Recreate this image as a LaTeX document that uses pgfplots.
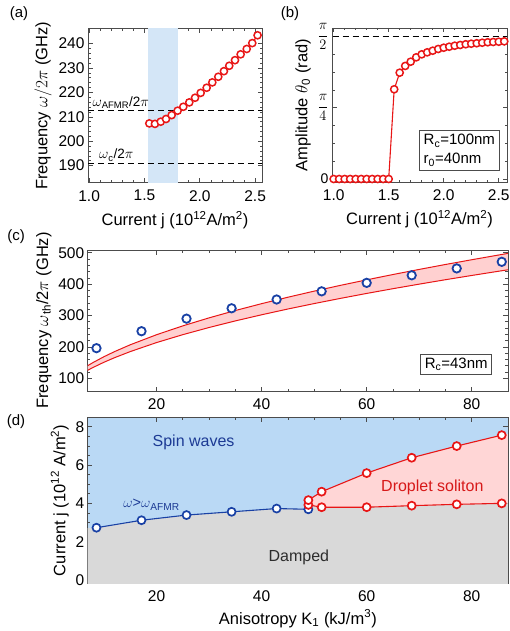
\documentclass[border=0pt]{standalone}
\usepackage{fontspec}
\setmainfont{Liberation Sans}
\setsansfont{Liberation Sans}
\usepackage{pgfplots}
\pgfplotsset{compat=1.18}

\definecolor{myred}{RGB}{232,22,22}
\definecolor{myblue}{RGB}{25,65,165}
\definecolor{bandblue}{RGB}{212,230,247}
\definecolor{regblue}{RGB}{186,217,245}
\definecolor{reggray}{RGB}{217,217,217}
\definecolor{regpink}{RGB}{255,214,214}
\definecolor{bandpink}{RGB}{255,208,208}
\definecolor{txtblue}{RGB}{28,58,148}
\definecolor{txtred}{RGB}{215,25,25}
\definecolor{txtgray}{RGB}{45,45,45}

\pgfplotsset{
  panel/.style={
    scale only axis,
    anchor=south west,
    axis line style={black!70, line width=0.7pt},
    tick align=inside,
    major tick length=4.5pt,
    minor tick length=2.5pt,
    every tick/.style={black!70, line width=0.6pt},
    /pgf/number format/assume math mode=true,
    tick label style={font=\fontsize{15.5}{18}\selectfont},
    xticklabel style={yshift=-4pt},
    label style={font=\fontsize{16.5}{19}\selectfont},
  },
  redmk/.style={myred, line width=1.1pt, mark=*, mark size=3.6pt,
    mark options={fill=white, draw=myred, line width=1.5pt, solid}},
}

\begin{document}
\begin{tikzpicture}
\useasboundingbox (0,0) rectangle (509pt,-631pt);

% ---------------- (a) ----------------
\begin{axis}[panel, at={(88pt,-182.7pt)}, width=174pt, height=154pt,
  xmin=0.99, xmax=2.562, ymin=183.0, ymax=246.1,
  xtick={1,1.5,2,2.5}, xticklabels={1.0,1.5,2.0,2.5},
  ytick={190,200,210,220,230,240},
  minor x tick num=4, minor y tick num=4,
  xlabel style={yshift=-3pt},
  xlabel={Current j (10\textsuperscript{12}A/m\textsuperscript{2})},
  ylabel={Frequency $\omega/2\pi$ (GHz)}]
\addplot[fill=bandblue, draw=none] coordinates {(1.53,170) (1.80,170) (1.80,260) (1.53,260)} -- cycle;
\addplot[black, line width=0.9pt, dash pattern=on 6pt off 4pt] coordinates {(0.9,212.7) (2.7,212.7)};
\addplot[black, line width=0.9pt, dash pattern=on 6pt off 4pt] coordinates {(0.9,191.0) (2.7,191.0)};
\addplot[redmk] coordinates {
(1.544,207.3) (1.595,207.1) (1.647,208.0) (1.695,209.1) (1.746,210.7)
(1.800,212.5) (1.851,214.1) (1.905,215.9) (1.957,217.8) (2.008,219.8)
(2.062,221.9) (2.113,224.1) (2.167,226.4) (2.218,228.7) (2.266,230.9)
(2.318,233.2) (2.369,235.6) (2.424,237.8) (2.474,240.2) (2.522,243.4)};
\node[anchor=south west, inner sep=1pt, font=\fontsize{13.5}{15}\selectfont] at (axis cs:1.02,213.0) {$\omega$\textsubscript{AFMR}/2$\pi$};
\node[anchor=south west, inner sep=1pt, font=\fontsize{13.5}{15}\selectfont] at (axis cs:1.08,191.3) {$\omega$\textsubscript{c}/2$\pi$};
\end{axis}

% ---------------- (b) ----------------
\begin{axis}[panel, at={(332pt,-182pt)}, width=175pt, height=154pt,
  xmin=0.985, xmax=2.575, ymin=-0.033, ymax=1.663,
  xtick={1,1.5,2,2.5}, xticklabels={1.0,1.5,2.0,2.5},
  ytick={0,0.7854,1.5708}, yticklabels={0,$\displaystyle\frac{\pi}{4}$,$\displaystyle\frac{\pi}{2}$},
  yticklabel style={font=\fontsize{14}{16}\selectfont},
  minor x tick num=4, minor y tick num=3,
  xlabel style={yshift=-3pt},
  xlabel={Current j (10\textsuperscript{12}A/m\textsuperscript{2})},
  ylabel={Amplitude $\theta$\textsubscript{0} (rad)}]
\addplot[black, line width=0.9pt, dash pattern=on 6pt off 4pt] coordinates {(0.9,1.5708) (2.7,1.5708)};
\addplot[redmk] coordinates {
(1.00,0) (1.05,0) (1.10,0) (1.15,0) (1.20,0) (1.25,0) (1.30,0) (1.35,0) (1.40,0) (1.45,0) (1.50,0)
(1.55,0.988) (1.60,1.171) (1.65,1.245) (1.70,1.292) (1.75,1.340) (1.80,1.373)
(1.85,1.395) (1.90,1.413) (1.95,1.432) (2.00,1.446) (2.05,1.457) (2.10,1.468)
(2.15,1.476) (2.20,1.484) (2.25,1.490) (2.30,1.495) (2.35,1.501) (2.40,1.506)
(2.45,1.509) (2.50,1.512) (2.55,1.516)};
\node[draw=black!70, fill=white, line width=0.7pt, anchor=south east, align=left,
  inner sep=4pt, font=\fontsize{15}{19}\selectfont] at (rel axis cs:0.956,0.073)
  {R\textsubscript{c}=100nm\\r\textsubscript{0}=40nm};
\end{axis}

% ---------------- (c) ----------------
\begin{axis}[panel, at={(87.7pt,-391pt)}, width=420.3pt, height=141pt,
  xmin=6.9, xmax=86.9, ymin=59.6, ymax=508.6,
  xtick={20,40,60,80}, ytick={100,200,300,400,500},
  minor x tick num=3, minor y tick num=4,
  ylabel={Frequency $\omega$\textsubscript{th}/2$\pi$ (GHz)}]
\addplot[fill=bandpink, draw=none] coordinates {
(6,130.8) (7,141.3) (8,151.0) (10,168.9) (12,185.0) (15,206.8) (20,238.8) (25,267.0)
(30,292.5) (35,315.9) (40,337.7) (45,358.2) (50,377.6) (55,396.0) (60,413.6)
(65,430.5) (70,446.8) (75,462.5) (80,477.6) (85,492.3) (88,501.0)
(88,448.4) (85,440.7) (80,427.5) (75,414.0) (70,399.9) (65,385.4) (60,370.3)
(55,354.5) (50,338.0) (45,320.7) (40,302.3) (35,282.8) (30,261.8) (25,239.0)
(20,213.8) (15,185.1) (12,165.6) (10,151.2) (8,135.2) (7,126.5) (6,117.1)} -- cycle;
\addplot[myred, line width=1pt] coordinates {
(6,130.8) (7,141.3) (8,151.0) (10,168.9) (12,185.0) (15,206.8) (20,238.8) (25,267.0)
(30,292.5) (35,315.9) (40,337.7) (45,358.2) (50,377.6) (55,396.0) (60,413.6)
(65,430.5) (70,446.8) (75,462.5) (80,477.6) (85,492.3) (88,501.0)};
\addplot[myred, line width=1pt] coordinates {
(6,117.1) (7,126.5) (8,135.2) (10,151.2) (12,165.6) (15,185.1) (20,213.8) (25,239.0)
(30,261.8) (35,282.8) (40,302.3) (45,320.7) (50,338.0) (55,354.5) (60,370.3)
(65,385.4) (70,399.9) (75,414.0) (80,427.5) (85,440.7) (88,448.4)};
\addplot[only marks, mark=*, mark size=4.2pt, mark options={fill=white, draw=myblue, line width=1.8pt}] coordinates {
(8.57,196) (17.14,250) (25.71,290) (34.29,323) (42.86,351)
(51.43,377) (60,404) (68.57,428) (77.14,450) (85.71,471)};
\node[draw=black!70, fill=white, line width=0.7pt, anchor=south east,
  inner sep=4pt, font=\fontsize{15}{18}\selectfont] at (rel axis cs:0.962,0.113)
  {R\textsubscript{c}=43nm};
\end{axis}

% ---------------- (d) ----------------
\begin{axis}[panel, at={(87.7pt,-583.3pt)}, width=420.3pt, height=166pt,
  xmin=6.9, xmax=86.9, ymin=-0.17, ymax=8.49,
  xtick={20,40,60,80}, ytick={0,2,4,6,8},
  minor x tick num=3, minor y tick num=3,
  axis background/.style={fill=regblue},
  xlabel style={yshift=-1pt},
  xlabel={Anisotropy K\textsubscript{1} (kJ/m\textsuperscript{3})},
  ylabel={Current j (10\textsuperscript{12} A/m\textsuperscript{2})}]
\addplot[fill=reggray, draw=none] coordinates {
(5,2.69) (8.57,2.73) (17.14,3.12) (25.71,3.39) (34.29,3.56) (42.86,3.73) (48.9,3.69)
(48.9,3.85) (51.43,3.80) (60,3.80) (68.57,3.88) (77.14,3.95) (85.71,4.0) (90,4.02)
(90,-1) (5,-1)} -- cycle;
\addplot[fill=regpink, draw=none] coordinates {
(48.9,4.17) (51.43,4.61) (60,5.58) (68.57,6.38) (77.14,6.99) (85.71,7.56) (90,7.8)
(90,4.02) (85.71,4.0) (77.14,3.95) (68.57,3.88) (60,3.80) (51.43,3.80) (48.9,3.90)} -- cycle;
\addplot[myblue, line width=1.1pt, mark=*, mark size=4pt, mark options={fill=white, draw=myblue, line width=1.7pt}] coordinates {
(8.57,2.73) (17.14,3.12) (25.71,3.39) (34.29,3.56) (42.86,3.73) (48.9,3.69)};
\addplot[myred, line width=1.1pt, mark=*, mark size=4pt, mark options={fill=white, draw=myred, line width=1.7pt}] coordinates {
(48.9,3.92) (51.43,3.80) (60,3.80) (68.57,3.88) (77.14,3.95) (85.71,4.0)};
\addplot[myred, line width=1.1pt, mark=*, mark size=4pt, mark options={fill=white, draw=myred, line width=1.7pt}] coordinates {
(48.9,4.17) (51.43,4.61) (60,5.58) (68.57,6.38) (77.14,6.99) (85.71,7.56)};
\node[txtblue, font=\fontsize{16}{19}\selectfont] at (axis cs:27.05,7.16) {Spin waves};
\node[txtred, font=\fontsize{16}{19}\selectfont] at (axis cs:72.5,4.81) {Droplet soliton};
\node[txtgray, font=\fontsize{16}{19}\selectfont] at (axis cs:47.1,1.18) {Damped};
\node[txtblue, font=\fontsize{14.5}{17}\selectfont] at (axis cs:19.05,3.93) {$\omega$>$\omega$\textsubscript{AFMR}};
\end{axis}

% panel labels
\node[font=\fontsize{15}{18}\selectfont] at (19pt,-14pt) {(a)};
\node[font=\fontsize{15}{18}\selectfont] at (290pt,-14pt) {(b)};
\node[font=\fontsize{15}{18}\selectfont] at (16pt,-237pt) {(c)};
\node[font=\fontsize{15}{18}\selectfont] at (16pt,-422pt) {(d)};
\end{tikzpicture}
\end{document}
